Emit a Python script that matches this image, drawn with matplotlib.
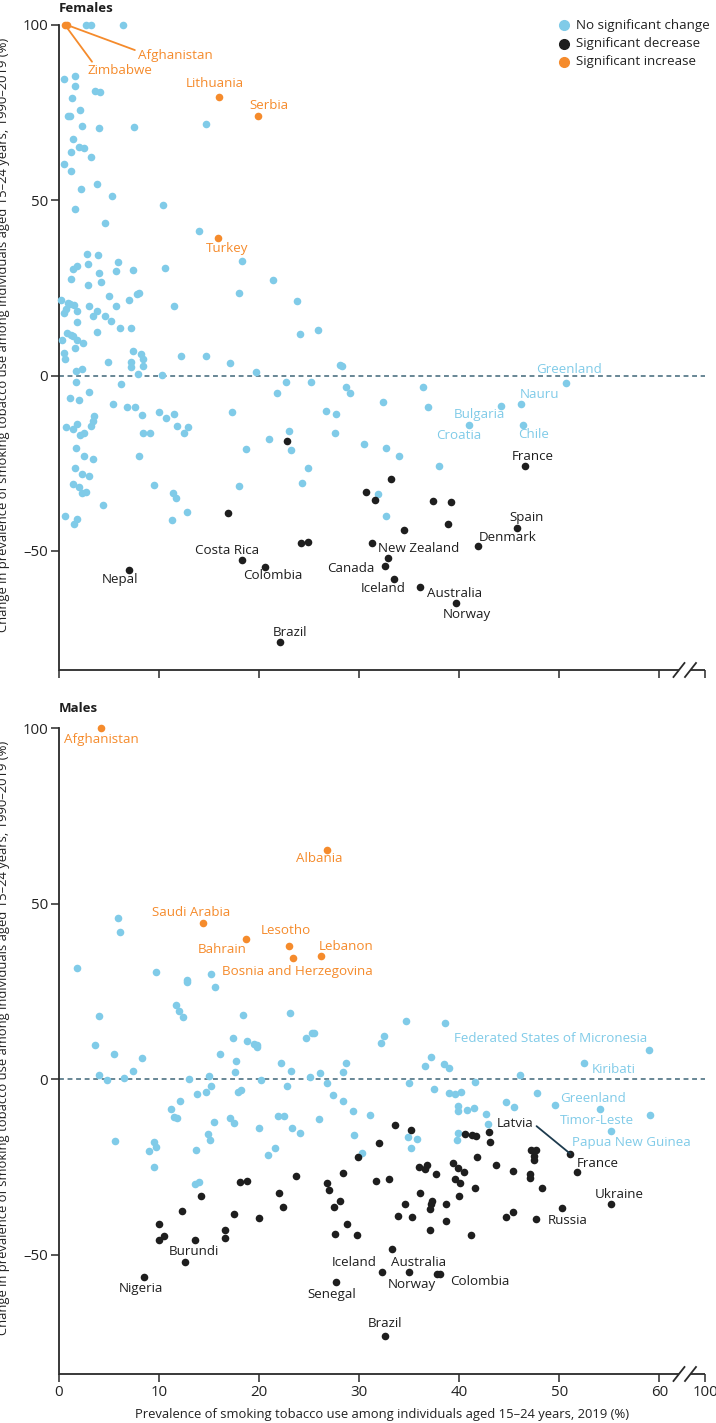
import matplotlib
matplotlib.use("Agg")
import matplotlib.pyplot as plt
from matplotlib.lines import Line2D

plt.rcParams['font.family'] = ['Open Sans', 'DejaVu Sans']

# ---------------- DATA ----------------
# Females: no significant change (unlabelled)
f_nc_x = [2.7, 3.2, 6.4, 0.5, 1.6, 1.6, 3.6, 4.1, 1.3, 2.1, 0.9, 1.1, 2.3, 4.0, 7.5, 14.7,
          1.4, 2.0, 2.5, 1.2, 3.2, 0.5, 1.2, 3.8, 2.2, 5.3, 10.4, 1.6, 4.6, 14.0,
          2.8, 3.9, 5.9, 2.9, 1.8, 1.4, 10.6, 7.4, 5.7, 18.3, 4.0, 1.2, 21.4, 4.2, 2.9, 5.0,
          7.8, 8.0, 18.0, 0.2, 7.0, 23.8, 0.9, 1.1, 1.5, 0.7, 3.0, 5.7, 11.5, 0.5, 1.8, 3.8,
          3.4, 4.6, 5.2, 1.8, 24.1, 25.9, 6.1, 7.2, 3.8, 0.8, 1.2, 1.4, 1.8, 0.3, 2.4, 1.6,
          0.5, 7.4, 8.2, 8.4, 8.4, 12.2, 14.7,
          0.6, 1.7, 2.3, 4.9, 7.2, 7.2, 7.9, 10.3, 17.1, 19.7,
          1.7, 6.2, 3.0, 1.1, 2.0, 5.4, 6.8, 7.6, 10.0, 8.3, 10.7, 11.5, 17.3, 0.7, 1.4, 1.8,
          3.2, 3.4, 3.5, 11.8, 12.9, 12.5, 8.4, 9.1, 2.1, 2.5, 1.7, 2.5, 3.4, 8.0, 18.7, 21.0,
          23.0, 23.2, 1.6, 2.3, 3.0, 24.9, 1.4, 2.0, 2.3, 2.7, 9.5, 11.4, 11.7, 18.0, 24.3,
          4.4, 0.6, 1.5, 1.8, 11.3, 12.8,
          28.1, 28.3, 28.7, 29.1, 26.7, 27.7, 27.6, 21.8, 22.7, 25.2,
          36.4, 36.9, 32.4, 30.5, 32.7, 34.0, 38.0, 31.9, 32.7]
f_nc_y = [100, 100, 100, 84.6, 85.4, 82.7, 81.3, 80.8, 79.3, 75.7, 73.9, 74.0, 71.1, 70.7, 70.9, 71.9,
          67.6, 65.3, 65.0, 63.7, 62.3, 60.3, 58.3, 54.5, 53.3, 51.3, 48.6, 47.4, 43.4, 41.1,
          34.8, 34.4, 32.3, 31.9, 31.2, 30.4, 30.7, 30.0, 29.7, 32.6, 29.2, 27.4, 27.2, 26.6, 25.8, 22.6,
          23.2, 23.6, 23.5, 21.5, 21.5, 21.2, 20.8, 20.4, 20.2, 19.0, 19.8, 19.9, 19.7, 17.7, 18.4, 18.5,
          16.9, 16.9, 15.7, 15.4, 11.8, 12.9, 13.6, 13.7, 12.4, 12.2, 11.7, 11.2, 10.2, 10.0, 9.3, 7.8,
          6.5, 6.9, 6.2, 4.8, 2.6, 5.7, 5.7,
          4.8, 1.2, 2.0, 3.9, 3.8, 2.4, 0.3, 0.2, 3.5, 1.0,
          -1.7, -2.5, -4.8, -6.3, -6.9, -8.0, -9.1, -8.9, -10.3, -11.3, -12.0, -11.1, -10.5, -14.6, -15.3, -13.8,
          -14.4, -13.1, -11.5, -14.3, -14.7, -16.3, -16.4, -16.3, -16.9, -16.3, -20.6, -23.0, -23.7, -22.9, -20.9, -18.0,
          -15.8, -21.3, -26.5, -28.2, -28.8, -26.5, -31.0, -31.9, -33.6, -33.3, -31.1, -33.5, -35.0, -31.4, -30.6,
          -37.0, -40.1, -42.3, -40.8, -41.1, -39.0,
          2.9, 2.6, -3.3, -5.0, -10.1, -10.9, -16.5, -5.0, -1.7, -1.8,
          -3.3, -9.0, -7.6, -19.5, -20.7, -23.0, -25.9, -33.9, -40.0]
# Females: significant decrease (unlabelled)
f_dec_x = [22.8, 16.9, 24.2, 24.9, 33.2, 30.7, 31.6, 37.4, 39.2, 38.9, 34.5, 32.9]
f_dec_y = [-18.6, -39.3, -47.9, -47.4, -29.4, -33.1, -35.6, -35.8, -36.2, -42.3, -44.0, -52.0]

# Females: labelled countries
f_lab_country = ["Zimbabwe", "Afghanistan", "Lithuania", "Serbia", "Turkey",
                 "Greenland", "Nauru", "Bulgaria", "Chile", "Croatia",
                 "Costa Rica", "Colombia", "Nepal", "Brazil", "France", "Spain", "Denmark",
                 "New Zealand", "Canada", "Iceland", "Australia", "Norway"]
f_lab_x = [0.6, 0.8, 16.0, 19.9, 15.9,
           50.7, 46.2, 44.2, 46.4, 41.0,
           18.3, 20.6, 7.0, 22.1, 46.6, 45.8, 41.9,
           31.3, 32.6, 33.5, 36.1, 39.7]
f_lab_y = [100, 100, 79.6, 73.9, 39.2,
           -2.0, -8.2, -8.6, -14.0, -14.2,
           -52.7, -54.5, -55.4, -76.1, -25.7, -43.4, -48.7,
           -47.8, -54.3, -58.0, -60.2, -65.0]
f_lab_group = ["inc", "inc", "inc", "inc", "inc",
               "nc", "nc", "nc", "nc", "nc",
               "dec", "dec", "dec", "dec", "dec", "dec", "dec",
               "dec", "dec", "dec", "dec", "dec"]

# Males: no significant change (unlabelled)
m_nc_x = [5.9, 6.1, 1.8, 9.7, 15.2, 12.8, 12.8, 15.6, 11.7, 12.0, 12.4, 4.0, 18.4, 23.1, 3.6, 5.5,
          8.3, 7.4, 4.0, 4.8, 6.5, 17.4, 18.8, 19.5, 19.8, 19.8, 16.1, 17.7, 17.6, 15.0, 13.0, 15.2,
          20.2, 22.2, 23.2, 22.8, 24.7, 25.3, 25.5, 25.1, 26.1, 26.8, 28.4, 28.7,
          5.6, 12.1, 11.2, 11.5, 11.8, 13.8, 14.7, 17.9, 18.2, 17.1, 17.5, 15.5, 14.9, 15.1, 9.5, 9.7,
          9.0, 9.5, 13.7, 13.6, 14.0, 20.0, 20.9, 21.6, 21.9, 22.5, 23.3, 24.1, 26.0, 28.4, 27.4, 29.4, 29.5,
          34.7, 38.6, 32.5, 32.2, 46.1, 37.2, 36.6, 38.5, 39.0, 35.0, 41.6, 37.5, 39.0, 39.6, 40.2,
          47.8, 59.1, 44.7, 45.5, 39.9, 39.9, 40.8, 41.5, 42.7, 42.9, 31.1, 30.3, 34.9, 35.8, 35.2,
          39.9, 39.8]
m_nc_y = [46.0, 42.0, 31.5, 30.4, 29.9, 28.3, 27.7, 26.3, 21.0, 19.3, 17.6, 18.1, 18.3, 18.9, 9.8, 7.1,
          6.1, 2.4, 1.2, -0.2, 0.3, 11.6, 10.8, 10.1, 9.6, 9.2, 7.1, 5.1, 2.0, 0.8, 0.0, -2.0,
          -0.2, 4.5, 2.3, -2.0, 11.6, 13.2, 13.2, 0.5, 1.7, -1.1, 2.0, 4.5,
          -17.5, -6.1, -8.4, -10.7, -11.2, -4.2, -3.6, -3.6, -3.0, -11.2, -12.4, -12.3, -15.6, -17.4, -17.9, -19.3,
          -20.5, -25.1, -20.1, -29.8, -29.4, -14.0, -21.7, -19.7, -10.4, -10.4, -14.0, -15.3, -11.3, -6.3, -4.4, -9.2, -16.0,
          16.6, 15.9, 12.3, 10.4, 1.3, 6.4, 3.6, 4.4, 3.3, -1.2, -0.8, -2.7, -4.1, -4.3, -3.8,
          -4.1, -10.1, -6.4, -7.9, -7.6, -9.2, -8.8, -8.2, -10.0, -12.8, -10.1, -21.0, -16.5, -17.0, -19.5,
          -15.3, -17.3]
# Males: significant decrease (unlabelled)
m_dec_x = [29.9, 23.7, 28.4, 26.8, 27.0, 28.1, 27.5, 28.8, 27.6, 29.8, 18.1, 18.8, 14.2, 22.0, 22.4,
           17.5, 20.0, 12.3, 10.0, 10.5, 10.0, 13.6, 16.6, 16.6,
           33.6, 35.2, 32.0, 40.6, 41.3, 41.7, 43.0, 43.1, 41.8, 43.7, 45.4, 47.2, 47.7, 47.5, 47.5,
           47.1, 47.1, 48.3, 50.3, 44.7, 45.4, 36.0, 36.6, 36.8, 37.7, 39.4, 39.9, 40.5, 39.6, 40.1,
           41.6, 40.0, 31.7, 33.0, 36.1, 34.6, 37.3, 37.2, 37.1, 38.7, 33.9, 35.3, 38.7, 37.1, 41.2,
           37.8]
m_dec_y = [-22.1, -27.5, -26.8, -29.5, -31.6, -34.6, -36.5, -41.3, -44.2, -44.5, -29.2, -29.0, -33.3, -32.4, -36.5,
           -38.3, -39.6, -37.5, -41.2, -44.6, -45.9, -45.7, -42.9, -45.4,
           -13.2, -14.4, -18.3, -15.7, -15.9, -16.1, -15.2, -17.9, -22.1, -24.4, -26.1, -20.1, -20.3, -22.0, -23.0,
           -27.0, -28.3, -31.0, -36.8, -39.3, -37.8, -25.0, -25.6, -24.5, -26.9, -24.0, -25.4, -26.4, -28.4, -29.5,
           -31.0, -33.2, -29.1, -28.6, -32.4, -35.5, -34.8, -35.5, -37.1, -35.7, -39.0, -39.3, -40.3, -42.9, -44.4,
           -55.6]
# Males: labelled countries
m_lab_country = ["Afghanistan", "Albania", "Saudi Arabia", "Bahrain", "Lesotho",
                 "Bosnia and Herzegovina", "Lebanon",
                 "Federated States of Micronesia", "Kiribati", "Greenland", "Timor-Leste",
                 "Papua New Guinea",
                 "Latvia", "France", "Ukraine", "Russia", "Burundi", "Nigeria", "Senegal",
                 "Iceland", "Australia", "Norway", "Colombia", "Brazil"]
m_lab_x = [4.2, 26.8, 14.4, 18.7, 23.0, 23.4, 26.2,
           59.0, 52.5, 49.6, 54.1, 55.2,
           51.1, 51.8, 55.2, 47.7, 12.6, 8.5, 27.7,
           32.3, 33.3, 35.0, 38.1, 32.6]
m_lab_y = [100, 65.3, 44.5, 39.9, 38.0, 34.6, 35.0,
           8.2, 4.7, -7.5, -8.5, -14.9,
           -21.3, -26.5, -35.7, -39.9, -52.0, -56.3, -57.9,
           -54.9, -48.5, -55.0, -55.6, -73.2]
m_lab_group = ["inc"] * 7 + ["nc"] * 5 + ["dec"] * 12

x_ticks = [0, 10, 20, 30, 40, 50, 60, 100]
y_ticks = [-50, 0, 50, 100]

# ---------------- STYLE ----------------
COL = {"nc": "#80cbe8", "dec": "#1e1e1e", "inc": "#f58b2c"}
SPINE = "#2a2a2a"
X_BREAK_POS = 64.55          # axis position representing 100 %
BREAK_FROM, BREAK_TO = 61.95, 63.1
MS = 30
FS_LAB = 9.6

# label offsets in pixels (text centre relative to point)
f_off = {"Zimbabwe": (55, -46), "Afghanistan": (108, -30), "Lithuania": (-4, 13),
         "Serbia": (11, 11), "Turkey": (9, -10), "Greenland": (3, 13), "Nauru": (18, 10),
         "Bulgaria": (-22, -9), "Chile": (10, -10), "Croatia": (-11, -10),
         "Costa Rica": (-15, 10), "Colombia": (8, -9), "Nepal": (-9, -10), "Brazil": (10, 10),
         "France": (7, 9), "Spain": (9, 10), "Denmark": (29, 9), "New Zealand": (46, -5),
         "Canada": (-34, -3), "Iceland": (-11, -10), "Australia": (34, -7), "Norway": (11, -11)}
m_off = {"Afghanistan": (0, -11), "Albania": (-8, -9), "Saudi Arabia": (-12, 10),
         "Bahrain": (-24, -10), "Lesotho": (-3, 15), "Bosnia and Herzegovina": (4, -14),
         "Lebanon": (25, 10), "Federated States of Micronesia": (-99, 12), "Kiribati": (29, -7),
         "Greenland": (38, 7), "Timor-Leste": (-3, -12), "Papua New Guinea": (20, -11),
         "Latvia": (-55, 30), "France": (20, 9), "Ukraine": (8, 10), "Russia": (31, -1),
         "Burundi": (9, 10), "Nigeria": (-3, -12), "Senegal": (-4, -12),
         "Iceland": (-28, 9), "Australia": (26, -13), "Norway": (3, -12),
         "Colombia": (40, -7), "Brazil": (0, 13)}
leaders = {("f", "Zimbabwe"): ((0.1, 1.0), COL["inc"]),
           ("f", "Afghanistan"): ((0.0, 0.8), COL["inc"]),
           ("m", "Latvia"): ((1.0, 0.5), "#1d3b4e")}

W, H = 716, 1423
fig = plt.figure(figsize=(W / 100, H / 100), dpi=100)
ax1 = fig.add_axes([59 / W, 1 - 670 / H, 646 / W, 645 / H])
ax2 = fig.add_axes([59 / W, 1 - 1374 / H, 646 / W, 646 / H])


def style_axis(ax, show_xlabels):
    ax.set_xlim(0, X_BREAK_POS)
    ax.set_ylim(-84, 100)
    for s in ("top", "right", "bottom"):
        ax.spines[s].set_visible(False)
    ax.spines["left"].set_color(SPINE)
    ax.spines["left"].set_linewidth(1.3)
    ax.spines["left"].set_bounds(-84, 100)
    xt = [t if t <= 60 else X_BREAK_POS for t in x_ticks]
    ax.set_xticks(xt)
    ax.set_xticklabels([str(t) for t in x_ticks] if show_xlabels else [])
    ax.set_yticks(y_ticks)
    ax.set_yticklabels([("\u2013" + str(-t)) if t < 0 else str(t) for t in y_ticks])
    ax.tick_params(axis="both", length=5.5, width=1.1, color=SPINE, labelsize=10.8,
                   labelcolor="#222222", pad=2.5)
    # bottom axis line with break
    kw = dict(color=SPINE, lw=1.3, solid_capstyle="butt", clip_on=False,
              transform=ax.get_xaxis_transform())
    ax.add_line(Line2D([0, BREAK_FROM], [0, 0], **kw))
    ax.add_line(Line2D([BREAK_TO, X_BREAK_POS], [0, 0], **kw))
    # break marks
    for bx in (BREAK_FROM, BREAK_TO):
        p = ax.transData.transform((bx, 0))
        y0 = ax.transAxes.transform((0, 0))[1]
        inv = fig.transFigure.inverted()
        a = inv.transform((p[0] - 5.5, y0 - 7))
        b = inv.transform((p[0] + 5.5, y0 + 7))
        fig.add_artist(Line2D([a[0], b[0]], [a[1], b[1]], color=SPINE, lw=1.3,
                              transform=fig.transFigure))
    ax.axhline(0, color="#3f6678", lw=1.1, ls=(0, (3.2, 2.4)), zorder=1)


def draw(ax, key, nc_x, nc_y, dec_x, dec_y, lab_c, lab_x, lab_y, lab_g, offs):
    ax.scatter(nc_x, nc_y, s=MS, color=COL["nc"], lw=0, zorder=3, clip_on=False)
    ax.scatter(dec_x, dec_y, s=MS, color=COL["dec"], lw=0, zorder=4, clip_on=False)
    for c, x, y, g in zip(lab_c, lab_x, lab_y, lab_g):
        ax.scatter([x], [y], s=MS, color=COL[g], lw=0, zorder=5 if g != "nc" else 3,
                   clip_on=False)
        dx, dy = offs[c]
        kw = {}
        if (key, c) in leaders:
            rel, lc = leaders[(key, c)]
            kw["arrowprops"] = dict(arrowstyle="-", color=lc, lw=1.3, shrinkA=0, shrinkB=0,
                                    relpos=rel)
        ax.annotate(c, (x, y), xytext=(dx, dy), textcoords="offset pixels",
                    ha="center", va="center", fontsize=FS_LAB, color=COL[g], zorder=6, **kw)


style_axis(ax1, False)
style_axis(ax2, True)
draw(ax1, "f", f_nc_x, f_nc_y, f_dec_x, f_dec_y, f_lab_country, f_lab_x, f_lab_y,
     f_lab_group, f_off)
draw(ax2, "m", m_nc_x, m_nc_y, m_dec_x, m_dec_y, m_lab_country, m_lab_x, m_lab_y,
     m_lab_group, m_off)

ylab = "Change in prevalence of smoking tobacco use among individuals aged 15\u201324 years, 1990\u20132019 (%)"
for ax in (ax1, ax2):
    ax.set_ylabel(ylab, fontsize=9.4, color="#222222")
    ax.yaxis.set_label_coords(-0.0755, 0.52)
ax2.set_xlabel("Prevalence of smoking tobacco use among individuals aged 15\u201324 years, 2019 (%)",
               fontsize=9.35, color="#222222")
ax2.xaxis.set_label_coords(0.5, -0.053)

fig.text(59 / W, 1 - 8 / H, "Females", fontsize=9.5, fontweight="bold", ha="left", va="center",
         color="#1e1e1e")
fig.text(59 / W, 1 - 709 / H, "Males", fontsize=9.5, fontweight="bold", ha="left", va="center",
         color="#1e1e1e")

# legend
leg = [("No significant change", "nc"), ("Significant decrease", "dec"), ("Significant increase", "inc")]
for i, (txt, g) in enumerate(leg):
    yy = 1 - (25 + i * 18.5) / H
    fig.add_artist(Line2D([564 / W], [yy], marker="o", ms=7, color=COL[g], lw=0,
                          transform=fig.transFigure))
    fig.text(576 / W, yy, txt, fontsize=9.6, ha="left", va="center", color="#222222")

fig.savefig("out.png", dpi=100)
